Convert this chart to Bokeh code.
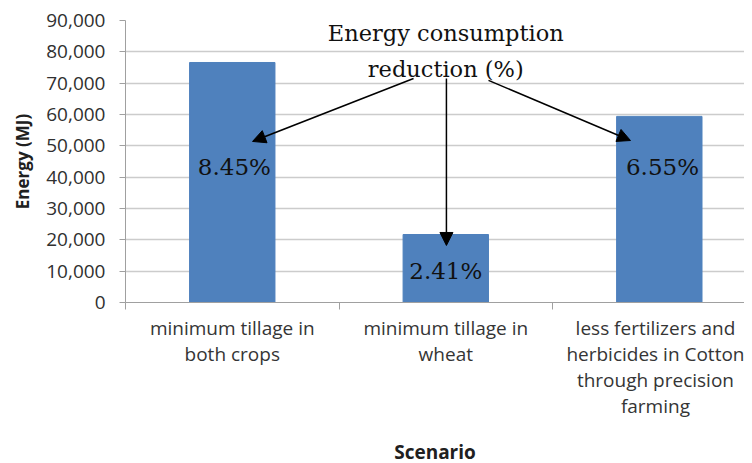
from bokeh.plotting import figure
from bokeh.models import (ColumnDataSource, Range1d, FixedTicker, NumeralTickFormatter,
                          Arrow, NormalHead)
from bokeh.core.properties import value
from bokeh.embed import file_html
from bokeh.resources import INLINE

# ---- data ----
scenarios = ["minimum tillage in\nboth crops",
             "minimum tillage in\nwheat",
             "less fertilizers and\nherbicides in Cotton\nthrough precision\nfarming"]
energy_mj = [76600, 21700, 59400]
reduction_labels = ["8.45%", "2.41%", "6.55%"]
y_ticks = [0, 10000, 20000, 30000, 40000, 50000, 60000, 70000, 80000, 90000]

xc = [i + 0.5 for i in range(len(scenarios))]
src = ColumnDataSource(dict(x=xc, top=energy_mj))

p = figure(frame_width=619, frame_height=282, output_backend="svg", toolbar_location=None,
           x_range=Range1d(0, 2.899), y_range=Range1d(0, 90000),
           min_border_left=125, min_border_right=0, min_border_top=20, min_border_bottom=10)
p.outline_line_color = None
p.background_fill_color = "white"

p.vbar(x="x", top="top", width=0.4, source=src, fill_color="#4f81bd", line_color="#4f81bd")

# grid
p.xgrid.grid_line_color = None
p.ygrid.ticker = FixedTicker(ticks=y_ticks)
p.ygrid.grid_line_color = "#cccccc"
p.ygrid.grid_line_width = 1.5

# y axis
p.yaxis.ticker = FixedTicker(ticks=y_ticks)
p.yaxis.formatter = NumeralTickFormatter(format="0,0")
p.yaxis.axis_line_color = "#a0a0a0"
p.yaxis.major_tick_line_color = "#a0a0a0"
p.yaxis.major_tick_out = 6
p.yaxis.major_tick_in = 0
p.yaxis.minor_tick_line_color = None
p.yaxis.major_label_text_font = "Open Sans"
p.yaxis.major_label_text_font_size = "19px"
p.yaxis.major_label_text_color = "#303030"
p.yaxis.major_label_standoff = 14
p.yaxis.axis_label = "Energy (MJ)"
p.yaxis.axis_label_text_font = "Open Sans"
p.yaxis.axis_label_text_font_style = "bold"
p.yaxis.axis_label_text_font_size = "17px"
p.yaxis.axis_label_text_color = "#202020"
p.yaxis.axis_label_standoff = 9

# x axis
p.xaxis.ticker = FixedTicker(ticks=xc, minor_ticks=[0, 1, 2, 3])
p.xaxis.major_label_overrides = {x: s for x, s in zip(xc, scenarios)}
p.xaxis.major_tick_line_color = None
p.xaxis.minor_tick_line_color = "#a0a0a0"
p.xaxis.minor_tick_out = 7
p.xaxis.minor_tick_in = 0
p.xaxis.axis_line_color = "#a0a0a0"
p.xaxis.major_label_text_font = "Open Sans"
p.xaxis.major_label_text_font_size = "19px"
p.xaxis.major_label_text_color = "#353535"
p.xaxis.major_label_text_line_height = 1.0
p.xaxis.major_label_standoff = 5
p.xaxis.axis_label = "Scenario"
p.xaxis.axis_label_text_font = "Open Sans"
p.xaxis.axis_label_text_font_style = "bold"
p.xaxis.axis_label_text_font_size = "19px"
p.xaxis.axis_label_text_color = "#202020"
p.xaxis.axis_label_standoff = 17

# annotation text
serif = value("DejaVu Serif")
p.text(x=[1.5, 1.5], y=[85900, 74500], text=["Energy consumption", "reduction (%)"],
       text_font=serif, text_font_size="22.5px", text_align="center",
       text_baseline="middle", text_color="#111111")

lab_src = ColumnDataSource(dict(x=[xc[0] + 0.01, xc[1], xc[2] + 0.015],
                                y=[43400, 9900, 43100], t=reduction_labels))
p.text(x="x", y="y", text="t", source=lab_src, text_font=serif, text_font_size="23px",
       text_align="center", text_baseline="middle", text_color="#111111")

# arrows
arrows = [((1.349, 71500), (0.595, 51400)),
          ((1.503, 71500), (1.503, 18200)),
          ((1.70, 70900), (2.365, 51700))]
for (x0, y0), (x1, y1) in arrows:
    p.add_layout(Arrow(x_start=x0, y_start=y0, x_end=x1, y_end=y1,
                       line_color="black", line_width=1.5,
                       end=NormalHead(size=13, fill_color="black", line_color="black")))

open("out.html", "w").write(file_html(p, INLINE))
